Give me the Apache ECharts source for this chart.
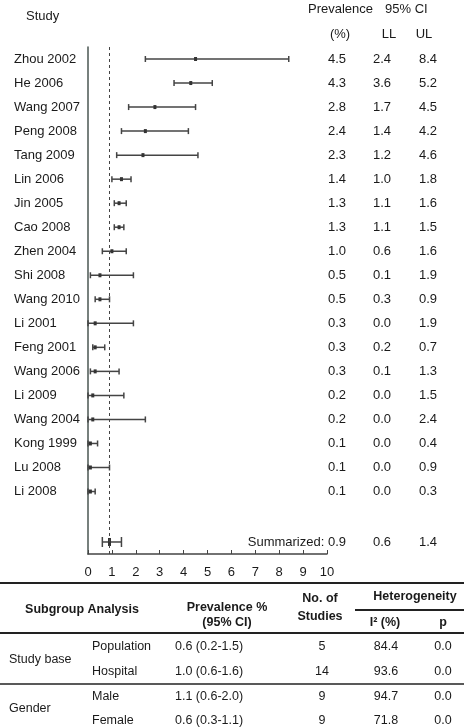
<!DOCTYPE html>
<html>
<head>
<meta charset="utf-8">
<script src="https://cdn.jsdelivr.net/npm/echarts@6/dist/echarts.min.js"></script>
<style>
  html, body { margin: 0; padding: 0; background: #fff; }
  #chart { width: 464px; height: 728px; }
</style>
</head>
<body>
<div id="chart"></div>
<script>
const studies = ['Zhou 2002', 'He 2006', 'Wang 2007', 'Peng 2008', 'Tang 2009', 'Lin 2006', 'Jin 2005', 'Cao 2008', 'Zhen 2004', 'Shi 2008',
  'Wang 2010', 'Li 2001', 'Feng 2001', 'Wang 2006', 'Li 2009', 'Wang 2004', 'Kong 1999', 'Lu 2008', 'Li 2008']
const prevalence = [4.5, 4.3, 2.8, 2.4, 2.3, 1.4, 1.3, 1.3, 1.0, 0.5, 0.5, 0.3, 0.3, 0.3, 0.2, 0.2, 0.1, 0.1, 0.1]
const lowerLimit = [2.4, 3.6, 1.7, 1.4, 1.2, 1.0, 1.1, 1.1, 0.6, 0.1, 0.3, 0.0, 0.2, 0.1, 0.0, 0.0, 0.0, 0.0, 0.0]
const upperLimit = [8.4, 5.2, 4.5, 4.2, 4.6, 1.8, 1.6, 1.5, 1.6, 1.9, 0.9, 1.9, 0.7, 1.3, 1.5, 2.4, 0.4, 0.9, 0.3]
const summarized = [0.9, 0.6, 1.4] // est, LL, UL
const xTicks = [0, 1, 2, 3, 4, 5, 6, 7, 8, 9, 10]

// subgroup table
const subgroupNames = ['Study base', 'Gender']
const subgroupLevels = ['Population', 'Hospital', 'Male', 'Female']
const subgroupCI = ['0.6 (0.2-1.5)', '1.0 (0.6-1.6)', '1.1 (0.6-2.0)', '0.6 (0.3-1.1)']
const subgroupN = ['5', '14', '9', '9']
const subgroupI2 = ['84.4', '93.6', '94.7', '71.8']
const subgroupP = ['0.0', '0.0', '0.0', '0.0']

const FONT = '13px "Liberation Sans", Arial, sans-serif'
const TFONT = '12.5px "Liberation Sans", Arial, sans-serif'
const TBOLD = 'bold 12.5px "Liberation Sans", Arial, sans-serif'
const INK = '#1a1a1a'
const LINE = '#444'
const SUMMARY_ROW = 20.1

const rows = studies.map((s, i) => [i, prevalence[i], lowerLimit[i], upperLimit[i], s])
rows.push([SUMMARY_ROW, summarized[0], summarized[1], summarized[2], 'summary'])

const txt = (x, y, text, opt = {}) => ({
  type: 'text', x, y,
  style: {
    text, fill: INK, font: opt.font || FONT,
    textAlign: opt.align || 'left', textVerticalAlign: 'middle'
  }
})

function renderCI(params, api) {
  const row = api.value(0)
  const e = api.value(1), lo = api.value(2), hi = api.value(3)
  const pE = api.coord([e, row]), pL = api.coord([lo, row]), pH = api.coord([hi, row])
  const y = pE[1]
  const isSum = row === SUMMARY_ROW
  const cap = isSum ? 5 : 3
  const ls = { stroke: LINE, lineWidth: 1.5 }
  const children = [
    { type: 'line', shape: { x1: pL[0], y1: y, x2: pH[0], y2: y }, style: ls },
    { type: 'line', shape: { x1: pL[0], y1: y - cap, x2: pL[0], y2: y + cap }, style: ls },
    { type: 'line', shape: { x1: pH[0], y1: y - cap, x2: pH[0], y2: y + cap }, style: ls },
    { type: 'rect', shape: { x: pE[0] - 1.5, y: y - (isSum ? 4 : 2), width: 3, height: isSum ? 8 : 4 }, style: { fill: '#333' } }
  ]
  const idx = params.dataIndex
  if (isSum) {
    children.push(txt(346, y, 'Summarized: ' + e.toFixed(1), { align: 'right' }))
  } else {
    children.push(txt(14, y, studies[idx]))
    children.push(txt(337, y, e.toFixed(1), { align: 'center' }))
  }
  children.push(txt(382, y, lo.toFixed(1), { align: 'center' }))
  children.push(txt(428, y, hi.toFixed(1), { align: 'center' }))
  return { type: 'group', children }
}

// table graphics
const tableEls = []
const hline = (y, w, x1 = 0, x2 = 464) => ({ type: 'line', shape: { x1, y1: y, x2, y2: y }, style: { stroke: '#222', lineWidth: w } })
tableEls.push(hline(583, 2), hline(610, 2, 355, 464), hline(633, 2), hline(684, 1.5))
tableEls.push(txt(82, 610, 'Subgroup Analysis', { font: TBOLD, align: 'center' }))
tableEls.push(txt(227, 608, 'Prevalence %', { font: TBOLD, align: 'center' }))
tableEls.push(txt(227, 623, '(95% CI)', { font: TBOLD, align: 'center' }))
tableEls.push(txt(320, 599, 'No. of', { font: TBOLD, align: 'center' }))
tableEls.push(txt(320, 617, 'Studies', { font: TBOLD, align: 'center' }))
tableEls.push(txt(415, 597, 'Heterogeneity', { font: TBOLD, align: 'center' }))
tableEls.push(txt(385, 623, 'I\u00b2 (%)', { font: TBOLD, align: 'center' }))
tableEls.push(txt(443, 623, 'p', { font: TBOLD, align: 'center' }))
const groupY = [660, 709]
subgroupNames.forEach((g, i) => tableEls.push(txt(9, groupY[i], g, { font: TFONT })))
const levelY = [647, 672, 697, 721]
subgroupLevels.forEach((lv, i) => {
  const y = levelY[i]
  tableEls.push(txt(92, y, lv, { font: TFONT }))
  tableEls.push(txt(175, y, subgroupCI[i], { font: TFONT }))
  tableEls.push(txt(322, y, subgroupN[i], { font: TFONT, align: 'center' }))
  tableEls.push(txt(386, y, subgroupI2[i], { font: TFONT, align: 'center' }))
  tableEls.push(txt(443, y, subgroupP[i], { font: TFONT, align: 'center' }))
})

// forest plot headers
const headerEls = [
  txt(26, 16, 'Study'),
  txt(308, 9, 'Prevalence'),
  txt(385, 9, '95% CI'),
  txt(340, 34, '(%)', { align: 'center' }),
  txt(389, 34, 'LL', { align: 'center' }),
  txt(424, 34, 'UL', { align: 'center' })
]

const chart = echarts.init(document.getElementById('chart'))
chart.setOption({
  animation: false,
  grid: { left: 88, right: 137, top: 47, bottom: 174 },
  xAxis: {
    type: 'value', min: xTicks[0], max: xTicks[xTicks.length - 1], interval: 1,
    axisLine: { show: true, onZero: false, lineStyle: { color: LINE, width: 1.5 } },
    axisTick: { show: true, inside: true, length: 4, lineStyle: { color: LINE } },
    axisLabel: { color: INK, fontSize: 13, fontFamily: 'Liberation Sans', margin: 12 },
    splitLine: { show: false }
  },
  yAxis: {
    type: 'value', inverse: true, min: -0.5, max: 20.6,
    axisLine: { show: true, onZero: false, lineStyle: { color: '#4a5652', width: 1.5 } },
    axisTick: { show: false }, axisLabel: { show: false }, splitLine: { show: false }
  },
  graphic: headerEls.concat(tableEls),
  series: [
    {
      type: 'custom',
      clip: false,
      renderItem: renderCI,
      encode: { x: [1, 2, 3], y: 0 },
      data: rows
    },
    {
      type: 'line',
      data: [],
      markLine: {
        silent: true, symbol: 'none', label: { show: false },
        lineStyle: { color: LINE, type: [3, 3], width: 1 },
        data: [{ xAxis: summarized[0] }]
      }
    }
  ]
})
</script>
</body>
</html>
